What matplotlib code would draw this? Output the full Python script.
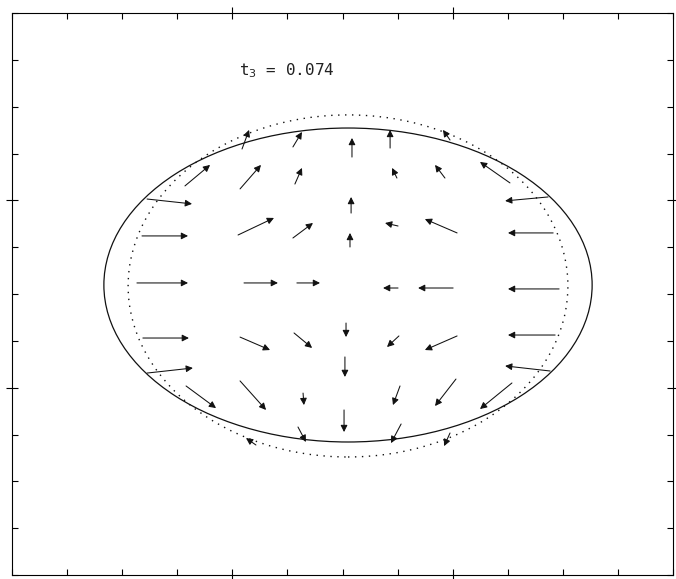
import numpy as np
import matplotlib
matplotlib.use("Agg")
import matplotlib.pyplot as plt
from matplotlib.patches import Ellipse
from matplotlib.ticker import MultipleLocator, FixedLocator

# arrow tails (x0, y0) and heads (x1, y1)
x0 = [-0.456, -0.225, 0.216, 0.488, -0.715, -0.465, -0.216, 0.043, 0.247, 0.465,
      0.760, -0.887, 0.039, 0.933, -0.910, -0.474, -0.225, 0.034, 0.252, 0.520,
      0.956, -0.933, -0.447, -0.207, 0.252, 0.502, 0.983, -0.906, -0.465, -0.220,
      0.016, 0.256, 0.520, 0.965, -0.887, 0.011, 0.942, -0.710, -0.465, -0.179,
      0.261, 0.515, 0.769, 0.007, -0.202, 0.266, -0.393, 0.488]
y0 = [0.774, 0.785, 0.779, 0.822, 0.577, 0.561, 0.587, 0.731, 0.619, 0.619,
      0.593, 0.507, 0.432, 0.518, 0.310, 0.315, 0.299, 0.251, 0.363, 0.326,
      0.326, 0.059, 0.059, 0.059, 0.032, 0.032, 0.027, -0.235, -0.230, -0.208,
      -0.155, -0.224, -0.224, -0.219, -0.422, -0.336, -0.411, -0.491, -0.464, -0.529,
      -0.491, -0.454, -0.475, -0.619, -0.710, -0.694, -0.806, -0.742]
x1 = [-0.424, -0.184, 0.216, 0.456, -0.601, -0.370, -0.184, 0.043, 0.225, 0.420,
      0.624, -0.683, 0.039, 0.738, -0.701, -0.311, -0.134, 0.034, 0.193, 0.374,
      0.751, -0.701, -0.293, -0.102, 0.184, 0.343, 0.751, -0.697, -0.329, -0.138,
      0.016, 0.202, 0.374, 0.751, -0.679, 0.011, 0.738, -0.574, -0.347, -0.175,
      0.229, 0.420, 0.624, 0.007, -0.166, 0.220, -0.438, 0.461]
y1 = [0.876, 0.865, 0.876, 0.876, 0.689, 0.689, 0.673, 0.833, 0.673, 0.689,
      0.705, 0.481, 0.518, 0.497, 0.310, 0.406, 0.379, 0.326, 0.379, 0.400,
      0.326, 0.059, 0.059, 0.059, 0.032, 0.032, 0.027, -0.235, -0.299, -0.288,
      -0.230, -0.283, -0.299, -0.219, -0.395, -0.443, -0.384, -0.609, -0.619, -0.593,
      -0.593, -0.598, -0.614, -0.737, -0.790, -0.796, -0.769, -0.812]

# interface shapes: (cx, cy, half width, half height)
current_shape = [0.025, 0.048, 1.108, 0.838]
initial_shape = [0.025, 0.043, 0.998, 0.913]

time_label = "t$_3$ = 0.074"

fig = plt.figure(figsize=(6.76, 5.79), dpi=100)
ax = fig.add_axes([12 / 676, 4 / 579, 661 / 676, 562 / 579])
ax.set_xlim(-1.5, 1.5)
ax.set_ylim(-1.5, 1.5)

cx, cy, a, b = current_shape
ax.add_patch(Ellipse((cx, cy), 2 * a, 2 * b, fill=False, ec="#111111", lw=0.9))
cx, cy, a, b = initial_shape
ax.add_patch(Ellipse((cx, cy), 2 * a, 2 * b, fill=False, ec="#111111", lw=1.0,
                     ls=(0, (1, 4))))

for xa, ya, xb, yb in zip(x0, y0, x1, y1):
    ax.annotate("", xy=(xb, yb), xytext=(xa, ya),
                arrowprops=dict(arrowstyle="-|>", color="#111111", lw=0.75,
                                mutation_scale=10, shrinkA=0, shrinkB=0))

ax.text(-0.47, 1.19, time_label, fontsize=11.5, family="DejaVu Sans Mono",
        color="#222222", ha="left", va="center")

# tick marks only, no labels
ax.xaxis.set_major_locator(FixedLocator([-0.5, 0.5]))
ax.yaxis.set_major_locator(FixedLocator([-0.5, 0.5]))
ax.xaxis.set_minor_locator(MultipleLocator(0.25))
ax.yaxis.set_minor_locator(MultipleLocator(0.25))
ax.tick_params(which="major", direction="inout", length=9, width=0.8,
               top=True, right=True, labelbottom=False, labelleft=False)
ax.tick_params(which="minor", direction="in", length=4, width=0.8,
               top=True, right=True)
for s in ax.spines.values():
    s.set_linewidth(0.8)

fig.savefig("out.png", dpi=100)
